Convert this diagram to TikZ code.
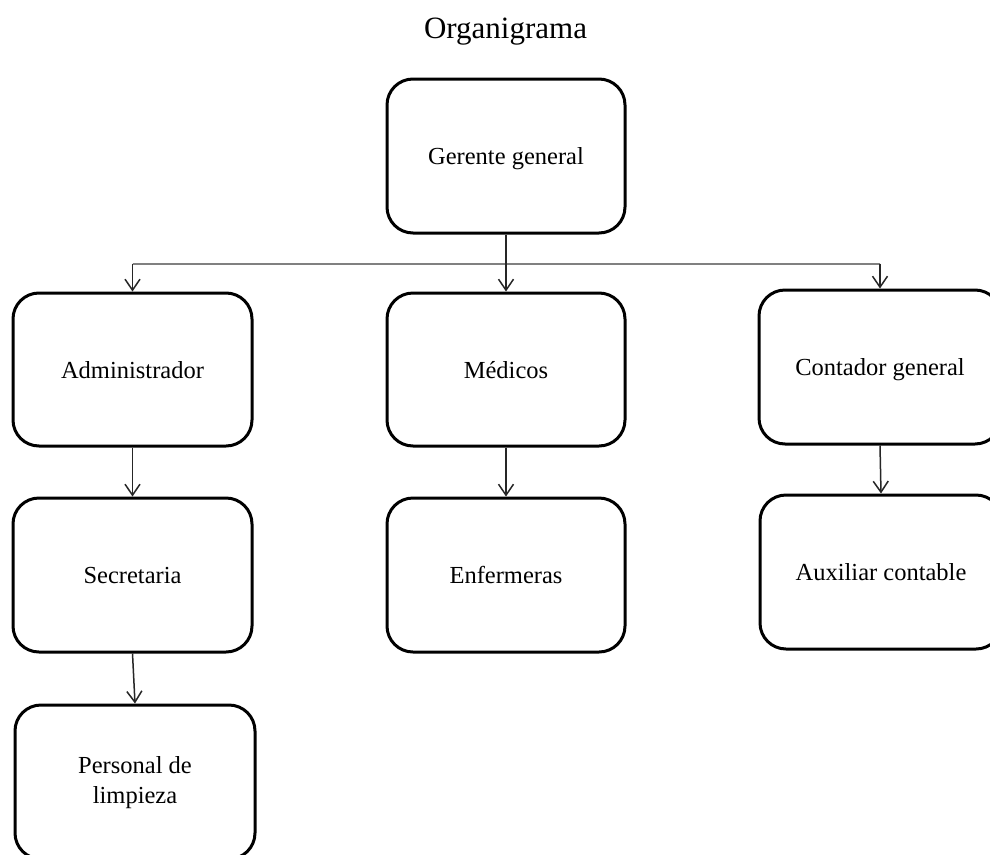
\documentclass[tikz,border=0pt]{standalone}
\usepackage{fontspec}
\setmainfont{Liberation Serif}
\usetikzlibrary{arrows.meta}
\tikzset{
  orgbox/.style={draw=black, line width=3pt, rounded corners=26pt, minimum width=238pt, minimum height=154pt, inner sep=0pt, text height=23pt, text depth=6pt, align=center, font=\fontsize{24.5}{30}\selectfont, text=black},
  arr/.style={draw=black!85, line width=1.5pt, -{Straight Barb[length=11pt,width=15pt,line width=1.5pt]}},
  busline/.style={draw=black!50, line width=2pt},
}
\begin{document}
\begin{tikzpicture}[x=1pt,y=-1pt]
\useasboundingbox (0,0) rectangle (990,854);
\clip (0,0) rectangle (990,854);
\fill[white] (0,0) rectangle (990,854);
\node[anchor=base, font=\fontsize{31}{36}\selectfont] (title) at (505.5,38) {Organigrama};
\node[orgbox] (gg) at (506,156) {Gerente general};
\node[orgbox, minimum width=239pt, minimum height=153pt] (adm) at (132.5,369.5) {Administrador};
\node[orgbox, minimum height=153pt] (med) at (506,369.5) {Médicos};
\node[orgbox, minimum width=242pt] (cont) at (880,367) {Contador general};
\node[orgbox, minimum width=239pt] (sec) at (132.5,575) {Secretaria};
\node[orgbox] (enf) at (506,575) {Enfermeras};
\node[orgbox, minimum width=242pt] (aux) at (881,572) {Auxiliar contable};
\node[orgbox, minimum width=240pt, text height=48pt, text depth=6pt] (per) at (135,782) {Personal de\\limpieza};
\coordinate (hb) at (506,263.5);
\draw[busline] (adm.north |- hb) -- (cont.north |- hb);
\draw[arr] (gg.south) -- (med.north);
\draw[arr] (adm.north |- hb) -- (adm.north);
\draw[arr] (cont.north |- hb) -- (cont.north);
\draw[arr] (adm.south) -- (sec.north);
\draw[arr] (med.south) -- (enf.north);
\draw[arr] (cont.south) -- (aux.north);
\draw[arr] (sec.south) -- (per.north);
\end{tikzpicture}
\end{document}
